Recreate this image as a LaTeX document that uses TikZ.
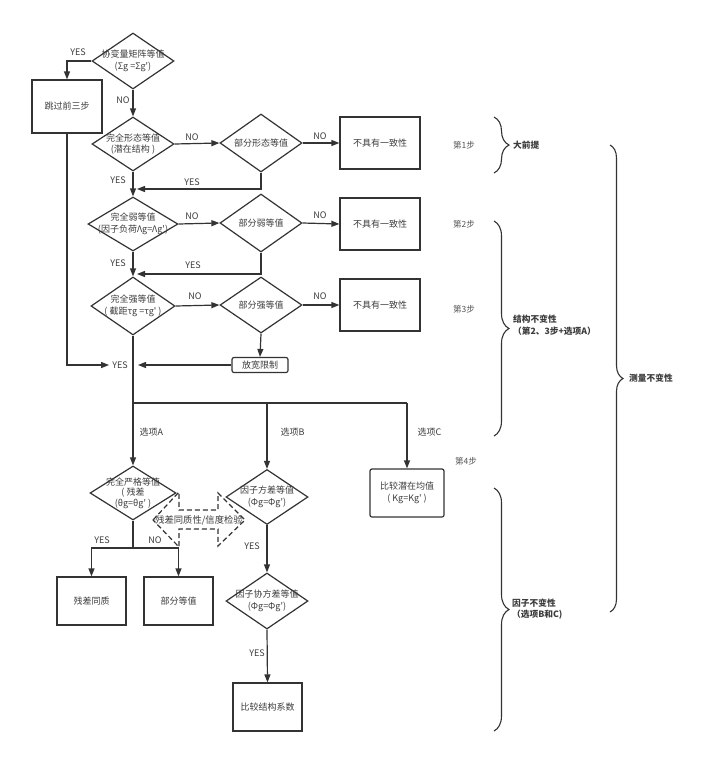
\documentclass[tikz,border=0pt]{standalone}
\usepackage{fontspec}
\setmainfont{Noto Sans CJK SC}[Ligatures=TeXOff]
\usetikzlibrary{shapes.geometric,arrows.meta,decorations.pathreplacing}
\definecolor{lc}{HTML}{333333}
\definecolor{tc}{HTML}{3C3C3C}
\definecolor{sc}{HTML}{555555}
\begin{document}
\begin{tikzpicture}[x=1pt,y=-1pt,
  every node/.style={text=tc, font=\fontsize{9}{11.5}\selectfont},
  dia/.style={diamond, draw=lc, line width=1.2pt, inner sep=0pt},
  box/.style={rectangle, draw=lc, line width=1.2pt, inner sep=0pt},
  rbox/.style={box, rounded corners=2pt},
  conn/.style={draw=lc, line width=1.2pt},
  arr/.style={conn, -{Triangle[length=8pt,width=6pt]}},
  stepnote/.style={text=sc, font=\fontsize{8.5}{11}\selectfont},
  brc/.style={draw=lc, line width=1.1pt, decorate, decoration={brace, amplitude=15pt}},
  boldlbl/.style={font=\fontsize{8.7}{11.5}\selectfont\bfseries, align=left, anchor=west, inner sep=0pt}
]
\fill[white] (0,0) rectangle (720,774);
\useasboundingbox (0,0) rectangle (720,774);

% ---------- top ----------
\node[dia, minimum width=82pt, minimum height=56pt] (d1) at (133,61) {};
\node[align=center] (t1) at (d1) {协变量矩阵等值\\(Σg =Σg')};
\node[box, minimum width=70pt, minimum height=53pt] (skip) at (67,106.5) {跳过前三步};

% ---------- step 1 ----------
\node[dia, minimum width=82pt, minimum height=54pt] (d2) at (133,144) {};
\node[align=center] (t2) at (d2) {完全形态等值\\(潜在结构 )};
\node[dia, minimum width=82pt, minimum height=58pt] (p2) at (261,143) {};
\node (tp2) at (p2) {部分形态等值};
\node[box, minimum width=80pt, minimum height=52pt] (f1) at (380,143) {不具有一致性};

% ---------- step 2 ----------
\node[dia, minimum width=90pt, minimum height=54pt] (d3) at (133,224) {};
\node[align=center] (t3) at (d3) {完全弱等值\\(因子负荷Λg=Λg')};
\node[dia, minimum width=82pt, minimum height=58pt] (p3) at (261,223) {};
\node (tp3) at (p3) {部分弱等值};
\node[box, minimum width=80pt, minimum height=52pt] (f2) at (380,224) {不具有一致性};

% ---------- step 3 ----------
\node[dia, minimum width=84pt, minimum height=58pt] (d4) at (133,306) {};
\node[align=center] (t4) at (d4) {完全强等值\\( 截距τg =τg' )};
\node[dia, minimum width=82pt, minimum height=56pt] (p4) at (261,305) {};
\node (tp4) at (p4) {部分强等值};
\node[box, minimum width=80pt, minimum height=52pt] (f3) at (380,305) {不具有一致性};
\node[rbox, minimum width=56pt, minimum height=15pt] (relax) at (260,365) {放宽限制};
\node[inner sep=3pt] (yesn) at (120,365) {YES};
\coordinate (j1) at (138,365);

% ---------- step 4 ----------
\coordinate (b0) at (133,403);
\coordinate (bB) at (267,403);
\coordinate (bC) at (407,403);
\node[dia, minimum width=86pt, minimum height=54pt] (dA) at (133,493) {};
\node[align=center, font=\fontsize{9}{10.5}\selectfont] (tA) at (dA) {完全严格等值\\( 残差\\(θg=θg' )};
\node[dia, minimum width=82pt, minimum height=55pt] (dB) at (267,497) {};
\node[align=center] (tB) at (dB) {因子方差等值\\(Φg=Φg')};
\node[rbox, minimum width=74pt, minimum height=48pt, align=center] (boxC) at (407,493) {比较潜在均值\\( Kg=Kg' )};
\coordinate (a0) at (133,548);
\node[box, minimum width=69pt, minimum height=48pt] (resid) at (91.5,601) {残差同质};
\node[box, minimum width=69pt, minimum height=48pt] (partial) at (178.5,601) {部分等值};
\node[dia, minimum width=82pt, minimum height=56pt] (dB2) at (267,601) {};
\node[align=center] (tB2) at (dB2) {因子协方差等值\\(Φg=Φg')};
\node[box, minimum width=69pt, minimum height=48pt] (coef) at (267.5,707) {比较结构系数};

% dashed double arrow
\draw[conn, dash pattern=on 5pt off 3pt] (153,520) -- (179,492) -- (179,510) -- (218,510) -- (218,493)
  -- (245,520) -- (218,546) -- (218,529) -- (179,529) -- (179,547) -- cycle;
\node[font=\fontsize{9.3}{11}\selectfont] (dbl) at (199,520) {残差同质性/信度检验};

% ---------- connectors ----------
\draw[arr] (d1.west) -| (skip.north);
\node (l1) at (78,52) {YES};
\draw[arr] (d1.south) -- (d2.north);
\node (l2) at (123,100) {NO};
\draw[arr] (d2.east) -- (p2.west);
\node (l3) at (192,137) {NO};
\draw[arr] (p2.east) -- (f1.west);
\node (l4) at (320,136) {NO};
\draw[arr] (d2.south) -- (d3.north);
\node (l5) at (118,180) {YES};
\coordinate (m1) at (137,189);
\draw[arr] (p2.south) |- (m1);
\node (l6) at (192,182) {YES};

\draw[arr] (d3.east) -- (p3.west);
\node (l7) at (192,216) {NO};
\draw[arr] (p3.east) -- (f2.west);
\node (l8) at (320,215) {NO};
\draw[arr] (d3.south) -- (d4.north);
\node (l9) at (118,263) {YES};
\coordinate (m2) at (137,274);
\draw[arr] (p3.south) |- (m2);
\node (l10) at (193,265) {YES};

\draw[arr] (d4.east) -- (p4.west);
\node (l11) at (195,296) {NO};
\draw[arr] (p4.east) -- (f3.west);
\node (l12) at (320,296) {NO};
\draw[arr] (p4.south) -- (relax.north);
\draw[arr] (relax.west) -- (j1);
\draw[arr] (skip.south) |- (yesn.west);

\draw[conn] (d4.south) -- (b0);
\draw[conn] (b0) -- (bC);
\draw[arr] (b0) -- (dA.north);
\draw[arr] (bB) -- (dB.north);
\draw[arr] (bC) -- (boxC.north);
\node[anchor=west] (oA) at (136,432) {选项A};
\node[anchor=west] (oB) at (277,432) {选项B};
\node[anchor=west] (oC) at (414,432) {选项C};

\draw[conn] (dA.south) -- (a0);
\draw[arr] (a0) -| (resid.north);
\draw[arr] (a0) -| (partial.north);
\node (l13) at (102,540) {YES};
\node (l14) at (155,540) {NO};
\draw[arr] (dB.south) -- (dB2.north);
\node (l15) at (252,546) {YES};
\draw[arr] (dB2.south) -- (coef.north);
\node (l16) at (257,653) {YES};

% ---------- right side ----------
\node[stepnote] (s1) at (464,145) {第1步};
\node[stepnote] (s2) at (464,224) {第2步};
\node[stepnote] (s3) at (464,309) {第3步};
\node[stepnote] (s4) at (466,461) {第4步};

\draw[brc] (494,117) -- (494,173);
\node[boldlbl] (g1) at (513,145) {大前提};
\draw[brc] (494,221) -- (494,436);
\node[boldlbl] (g2) at (513,325) {结构不变性\\（第2、3步+选项A）};
\draw[brc, decoration={brace, amplitude=13pt}] (610,145) -- (610,612);
\node[boldlbl] (g3) at (629,378) {测量不变性};
\draw[brc] (494,488) -- (494,731);
\node[boldlbl] (g4) at (512,609) {因子不变性\\（选项B和C)};
\end{tikzpicture}
\end{document}
